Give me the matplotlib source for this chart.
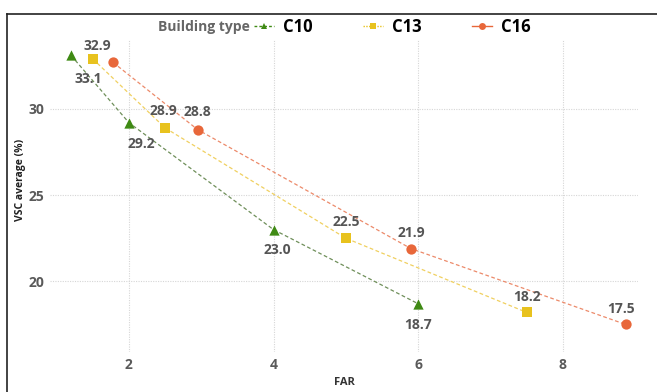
import matplotlib
matplotlib.use('Agg')
import matplotlib.pyplot as plt
from matplotlib.lines import Line2D

plt.rcParams['font.family'] = ['Open Sans', 'DejaVu Sans']

# data
types = ['C10', 'C13', 'C16']
far_c10 = [1.2, 2.0, 4.0, 6.0]
vsc_c10 = [33.1, 29.2, 23.0, 18.7]
far_c13 = [1.5, 2.5, 5.0, 7.5]
vsc_c13 = [32.9, 28.9, 22.5, 18.2]
far_c16 = [1.78, 2.95, 5.9, 8.87]
vsc_c16 = [32.7, 28.8, 21.9, 17.5]
show_c16 = [False, True, True, True]

xticks = [2, 4, 6, 8]
yticks = [20, 25, 30]

colors = {'C10': '#3f8a14', 'C13': '#e8c21e', 'C16': '#e8673a'}
line_colors = {'C10': '#6f8f5a', 'C13': '#f0d060', 'C16': '#ec8a6a'}
markers = {'C10': '^', 'C13': 's', 'C16': 'o'}
leg_ls = {'C10': (0, (2, 1.5)), 'C13': (0, (1, 1)), 'C16': '-'}

fig = plt.figure(figsize=(6.57, 3.92), dpi=100)
ax = fig.add_axes([0.076, 0.102, 0.895, 0.796])

series = [('C10', far_c10, vsc_c10), ('C13', far_c13, vsc_c13), ('C16', far_c16, vsc_c16)]
for name, xs, ys in series:
    ax.plot(xs, ys, ls=(0, (3, 2)), lw=0.9, color=line_colors[name], zorder=2)
    ax.scatter(xs, ys, marker=markers[name], s=55, color=colors[name], zorder=3, linewidths=0)

lab_kw = dict(textcoords='offset points', ha='center', va='center', fontsize=10,
              fontweight='bold', color='#555555', zorder=4)
c10_off = [(12, -17), (9, -15), (3, -15), (0, -15)]
for (x, y), off in zip(zip(far_c10, vsc_c10), c10_off):
    ax.annotate(f'{y:.1f}', (x, y), xytext=off, **lab_kw)
c13_off = [(3, 9), (-1, 12), (0, 12), (0, 11)]
for (x, y), off in zip(zip(far_c13, vsc_c13), c13_off):
    ax.annotate(f'{y:.1f}', (x, y), xytext=off, **lab_kw)
c16_off = [(0, 12), (0, 13), (0, 11), (-3, 11)]
for (x, y), off, s in zip(zip(far_c16, vsc_c16), c16_off, show_c16):
    if s:
        ax.annotate(f'{y:.1f}', (x, y), xytext=off, **lab_kw)

ax.set_xlim(0.907, 9.04)
ax.set_ylim(15.9, 34.0)
ax.set_xticks(xticks)
ax.set_yticks(yticks)
ax.grid(True, ls=(0, (1, 1.2)), lw=0.8, color='#d6d6d6')
ax.set_axisbelow(True)
for sp in ax.spines.values():
    sp.set_visible(False)
ax.tick_params(length=0, labelsize=10, labelcolor='#5a5a5a', pad=4)
for t in ax.get_xticklabels() + ax.get_yticklabels():
    t.set_fontweight('bold')
ax.set_xlabel('FAR', fontsize=8, fontweight='bold', color='#333333', labelpad=4)
ax.set_ylabel('VSC average (%)', fontsize=7.5, fontweight='bold', color='#222222')
ax.yaxis.set_label_coords(-0.041, 0.55)

# legend
fig.text(250 / 657, 1 - 27 / 392, 'Building type', ha='right', va='center',
         fontsize=10, fontweight='bold', color='#666666')
handles = [Line2D([], [], ls=leg_ls[t], lw=1, color=colors[t], marker=markers[t],
                  markersize=5, markeredgewidth=0) for t in types]
fig.legend(handles, types, loc='center left', bbox_to_anchor=(254 / 657, 1 - 27 / 392),
           ncol=3, frameon=False, borderpad=0, borderaxespad=0, handlelength=1.2,
           handletextpad=0.55, columnspacing=3.0, prop={'weight': 'bold', 'size': 12})

# image frame
fig.add_artist(Line2D([7 / 657, 7 / 657], [0, 1 - 14 / 392], color='#222222', lw=1.2))
fig.add_artist(Line2D([7 / 657, 1], [1 - 14 / 392, 1 - 14 / 392], color='#222222', lw=1.2))

fig.savefig('out.png', dpi=100)
